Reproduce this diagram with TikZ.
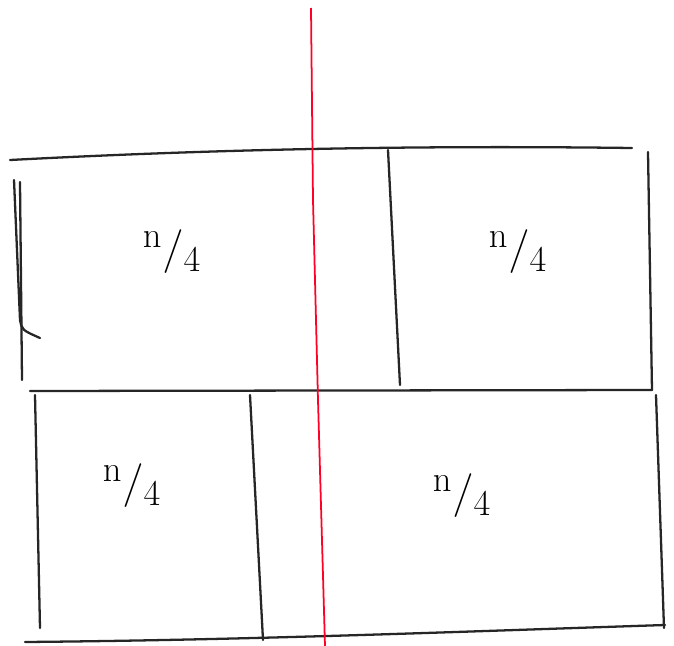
\documentclass[tikz,border=0pt]{standalone}
\begin{document}
\begin{tikzpicture}[x=0.02cm,y=-0.02cm,font=\Huge]
 			\useasboundingbox (0,0) rectangle (674,646);
 			\tikzset{pen/.style={line width=1.3pt,line cap=round,black!85}}
 			
 			% Outer frame, top half
 			\draw[pen] (10,160) .. controls (200,150) and (400,145) .. (632,148);
 			\draw[pen] (14,180) -- (20,320) .. controls (22,330) .. (40,338);
 			\draw[pen] (20,182) -- (22,380);
 			\draw[pen] (648,152) -- (652,390);
 			
 			% Middle line
 			\draw[pen] (30,391) -- (652,390);
 			
 			% Outer frame, bottom half
 			\draw[pen] (35,395) -- (40,628);
 			\draw[pen] (656,395) -- (664,628);
 			\draw[pen] (25,642) .. controls (250,640) and (450,632) .. (665,625);
 			
 			% Splits
 			\draw[pen] (388,150) -- (400,385);
 			\draw[pen] (250,395) -- (263,640);
 			
 			% Red cut
 			\draw[red!85!magenta,line width=1pt] (311,8) -- (313,200) -- (318,400) -- (325,646);
 			
 			% Sizes
 			\node (q1) at (172,252) {$^{\mathrm{n}}/_{4}$};
 			\node (q2) at (518,252) {$^{\mathrm{n}}/_{4}$};
 			\node (q3) at (132,486) {$^{\mathrm{n}}/_{4}$};
 			\node (q4) at (462,496) {$^{\mathrm{n}}/_{4}$};
 			
 		\end{tikzpicture}
\end{document}
